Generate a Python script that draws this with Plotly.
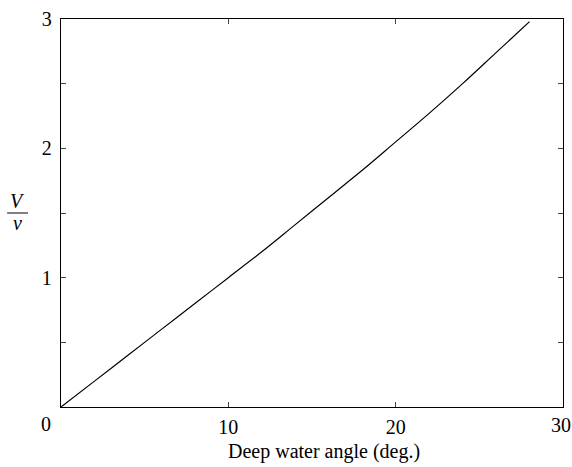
import plotly.graph_objects as go

angle = [0, 2, 4, 6, 8, 10, 12, 14, 16, 18, 20, 22, 24, 26, 28]
ratio = [0, 0.20, 0.40, 0.60, 0.80, 1.00, 1.20, 1.41, 1.62, 1.83, 2.05, 2.27, 2.50, 2.74, 2.98]

x_ticks = [0, 10, 20, 30]
x_ticktext = ["", "10", "20", ""]
y_ticks = [0, 0.5, 1, 1.5, 2, 2.5, 3]
y_ticktext = ["", "", "1", "", "2", "", "3"]

FONT = "Liberation Serif, Times New Roman, serif"
FS = 20

L, R, T, B = 61, 564, 11, 407
W, H = 572, 467


def px(xp):
    return (xp - L) / (R - L)


def py(yp):
    return (B - yp) / (B - T)


fig = go.Figure()
fig.add_trace(go.Scatter(x=angle, y=ratio, mode="lines", line=dict(color="black", width=1.2),
                         line_shape="spline", showlegend=False))

fig.update_layout(
    width=W, height=H,
    margin=dict(l=L, r=W - R, t=T, b=H - B),
    paper_bgcolor="white", plot_bgcolor="white",
    font=dict(family=FONT, size=FS, color="black"),
    xaxis=dict(range=[0, 30], tickvals=x_ticks, ticktext=x_ticktext, ticks="inside", ticklen=5,
               showline=True, linecolor="black", linewidth=1.3, mirror="allticks", showgrid=False,
               zeroline=False, tickfont=dict(size=FS, family=FONT), ticklabelstandoff=2),
    yaxis=dict(range=[0, 3], tickvals=y_ticks, ticktext=y_ticktext, ticks="inside", ticklen=5,
               showline=True, linecolor="black", linewidth=1.3, mirror="allticks", showgrid=False,
               zeroline=False, tickfont=dict(size=FS, family=FONT), ticklabelstandoff=4),
)

# origin label
fig.add_annotation(xref="paper", yref="paper", x=px(53), y=py(424),
                   text="0", showarrow=False, font=dict(size=FS, family=FONT),
                   xanchor="right", yanchor="middle")
# last x tick label (placed explicitly so it is not clipped)
fig.add_annotation(xref="x", yref="paper", x=x_ticks[-1], y=py(425),
                   text=str(x_ticks[-1]), showarrow=False, font=dict(size=FS, family=FONT),
                   xanchor="center", yanchor="middle", xshift=-2)
# x-axis title
fig.add_annotation(xref="paper", yref="paper", x=px(325), y=py(452),
                   text="Deep water angle (deg.)", showarrow=False, font=dict(size=FS, family=FONT),
                   xanchor="center", yanchor="middle")
# y-axis label as fraction V / v
fig.add_annotation(xref="paper", yref="paper", x=px(17), y=py(197),
                   text="<i>V</i>", showarrow=False, font=dict(size=FS, family=FONT),
                   xanchor="center", yanchor="middle")
fig.add_annotation(xref="paper", yref="paper", x=px(17), y=py(219),
                   text="<i>v</i>", showarrow=False, font=dict(size=FS, family=FONT),
                   xanchor="center", yanchor="middle")
fig.add_shape(type="line", xref="paper", yref="paper",
              x0=px(7), x1=px(28), y0=py(209), y1=py(209),
              line=dict(color="black", width=1))

fig.write_html("out.html")
